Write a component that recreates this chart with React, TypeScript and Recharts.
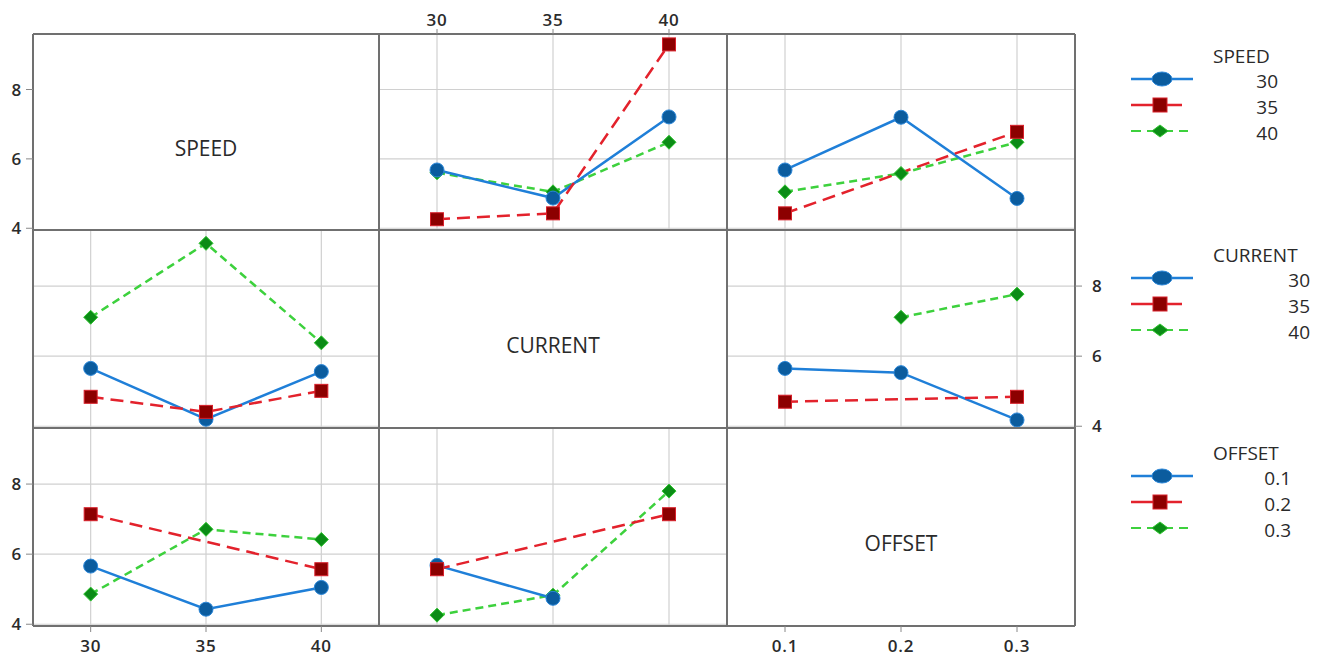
import React from "react";
import { LineChart, Line, XAxis, YAxis, CartesianGrid } from "recharts";

const speedLevels = [30, 35, 40];
const currentLevels = [30, 35, 40];
const offsetLevels = [0.1, 0.2, 0.3];
const yTicks = [4, 6, 8];

// SPEED row: one line per speed level
const speed30VsCurrent = [5.68, 4.87, 7.21];
const speed35VsCurrent = [4.26, 4.43, 9.3];
const speed40VsCurrent = [5.6, 5.05, 6.48];
const speed30VsOffset = [5.68, 7.2, 4.86];
const speed35VsOffset = [4.43, null, 6.78];
const speed40VsOffset = [5.05, 5.58, 6.48];

// CURRENT row: one line per current level
const current30VsSpeed = [5.65, 4.2, 5.56];
const current35VsSpeed = [4.84, 4.41, 5.01];
const current40VsSpeed = [7.11, 9.22, 6.38];
const current30VsOffset = [5.65, 5.53, 4.18];
const current35VsOffset = [4.7, null, 4.84];
const current40VsOffset = [null, 7.11, 7.77];

// OFFSET row: one line per offset level
const offset01VsSpeed = [5.66, 4.43, 5.05];
const offset02VsSpeed = [7.14, null, 5.57];
const offset03VsSpeed = [4.86, 6.71, 6.42];
const offset01VsCurrent = [5.68, 4.74, null];
const offset02VsCurrent = [5.57, null, 7.14];
const offset03VsCurrent = [4.26, 4.83, 7.8];

const colX = [33, 379, 727, 1075];
const rowY = [34, 230, 428, 626];
const Y_DOMAIN: [number, number] = [3.95, 9.6];
const PAD = 50;
const FONT = "'Open Sans', 'Noto Sans', sans-serif";
const FRAME = "#707070";
const GRID = "#d0d0d0";

const tickStyle = { fill: "#2b2b2b", fontSize: 17, fontFamily: FONT, fontWeight: 600, letterSpacing: 0.8 };
// keeps ticks computed (for the grid) without drawing labels
const noTick = () => <g />;

const blueDot = (p: any) =>
  p.cy == null ? <g key={p.index} /> : (
    <circle key={p.index} cx={p.cx} cy={p.cy} r={7} fill="#0b5c9e" stroke="#2a86d8" strokeWidth={1} />
  );
const redDot = (p: any) =>
  p.cy == null ? <g key={p.index} /> : (
    <rect key={p.index} x={p.cx - 6.5} y={p.cy - 6.5} width={13} height={13} fill="#8c0000" stroke="#d8202a" strokeWidth={1} />
  );
const greenDot = (p: any) =>
  p.cy == null ? <g key={p.index} /> : (
    <polygon
      key={p.index}
      points={`${p.cx},${p.cy - 7} ${p.cx + 7},${p.cy} ${p.cx},${p.cy + 7} ${p.cx - 7},${p.cy}`}
      fill="#0b8c16"
      stroke="#2ec42e"
      strokeWidth={1}
    />
  );

type PanelProps = {
  row: number;
  col: number;
  xLevels: number[];
  xDomain: [number, number];
  lines?: (number | null)[][];
  label?: string;
  left?: boolean;
  right?: boolean;
  top?: boolean;
  bottom?: boolean;
};

function Panel({ row, col, xLevels, xDomain, lines, label, left, right, top, bottom }: PanelProps) {
  const w = colX[col + 1] - colX[col];
  const h = rowY[row + 1] - rowY[row];
  const data = xLevels.map((x, i) => ({
    x,
    a: lines ? lines[0][i] : null,
    b: lines ? lines[1][i] : null,
    c: lines ? lines[2][i] : null,
  }));
  const axisLine = { stroke: FRAME, strokeWidth: 2 };
  const tl = { stroke: "#888", strokeWidth: 1 };
  return (
    <div style={{ position: "absolute", left: colX[col] - PAD, top: rowY[row] - PAD }}>
      <LineChart width={w + 2 * PAD} height={h + 2 * PAD} data={data} margin={{ top: 0, right: 0, bottom: 0, left: 0 }}>
        {lines && <CartesianGrid xAxisId="b" yAxisId="l" stroke={GRID} strokeWidth={1.2} />}
        <XAxis
          xAxisId="b"
          dataKey="x"
          type="number"
          domain={xDomain}
          ticks={xLevels}
          orientation="bottom"
          height={PAD}
          axisLine={axisLine}
          tickLine={bottom ? tl : false}
          tick={bottom ? tickStyle : noTick}
          tickSize={6}
          tickMargin={8}
          allowDataOverflow
        />
        <XAxis
          xAxisId="t"
          dataKey="x"
          type="number"
          domain={xDomain}
          ticks={xLevels}
          orientation="top"
          height={PAD}
          axisLine={axisLine}
          tickLine={top ? tl : false}
          tick={top ? tickStyle : noTick}
          tickSize={5}
          tickMargin={3}
          allowDataOverflow
        />
        <YAxis
          yAxisId="l"
          type="number"
          domain={Y_DOMAIN}
          ticks={yTicks}
          orientation="left"
          width={PAD}
          axisLine={axisLine}
          tickLine={left ? tl : false}
          tick={left ? tickStyle : noTick}
          tickSize={7}
          tickMargin={4}
          allowDataOverflow
        />
        <YAxis
          yAxisId="r"
          type="number"
          domain={Y_DOMAIN}
          ticks={yTicks}
          orientation="right"
          width={PAD}
          axisLine={axisLine}
          tickLine={right ? tl : false}
          tick={right ? tickStyle : noTick}
          tickSize={7}
          tickMargin={10}
          allowDataOverflow
        />
        {lines && (
          <Line
            xAxisId="b"
            yAxisId="l"
            type="linear"
            dataKey="c"
            stroke="#3dd13d"
            strokeWidth={2.5}
            strokeDasharray="8 5"
            dot={greenDot}
            activeDot={false}
            connectNulls
            isAnimationActive={false}
          />
        )}
        {lines && (
          <Line
            xAxisId="b"
            yAxisId="l"
            type="linear"
            dataKey="a"
            stroke="#1f7fd8"
            strokeWidth={2.5}
            dot={blueDot}
            activeDot={false}
            connectNulls
            isAnimationActive={false}
          />
        )}
        {lines && (
          <Line
            xAxisId="b"
            yAxisId="l"
            type="linear"
            dataKey="b"
            stroke="#e3222c"
            strokeWidth={2.5}
            strokeDasharray="13 7"
            dot={redDot}
            activeDot={false}
            connectNulls
            isAnimationActive={false}
          />
        )}
      </LineChart>
      {label && (
        <div
          style={{
            position: "absolute",
            left: PAD,
            top: PAD + h / 2 + 2,
            width: w,
            textAlign: "center",
            fontFamily: FONT,
            fontSize: 21,
            color: "#2a2a2a",
          }}
        >
          {label}
        </div>
      )}
    </div>
  );
}

const legends = [
  { title: "SPEED", levels: speedLevels.map(String), top: 56, right: 1278 },
  { title: "CURRENT", levels: currentLevels.map(String), top: 255, right: 1310 },
  { title: "OFFSET", levels: offsetLevels.map(String), top: 453, right: 1291 },
];

function Legends() {
  return (
    <svg width={1323} height={657} style={{ position: "absolute", left: 0, top: 0, pointerEvents: "none" }}>
      {legends.map((lg) => {
        const y0 = lg.top + 23;
        return (
          <g key={lg.title} fontFamily={FONT} fill="#2a2a2a">
            <text x={1213} y={lg.top} dy="0.35em" fontSize={19}>
              {lg.title}
            </text>
            {lg.levels.map((lv, i) => (
              <text key={lv} x={lg.right} y={y0 + i * 26 + 2} dy="0.35em" fontSize={19} textAnchor="end">
                {lv}
              </text>
            ))}
            <line x1={1131} x2={1193} y1={y0} y2={y0} stroke="#1f7fd8" strokeWidth={2.5} />
            <ellipse cx={1162} cy={y0} rx={10} ry={7} fill="#0b5c9e" stroke="#2a86d8" />
            <line x1={1131} x2={1182} y1={y0 + 26} y2={y0 + 26} stroke="#e3222c" strokeWidth={2.5} />
            <rect x={1153} y={y0 + 26 - 7} width={14} height={14} fill="#8c0000" stroke="#d8202a" />
            <line
              x1={1131}
              x2={1188}
              y1={y0 + 52}
              y2={y0 + 52}
              stroke="#3dd13d"
              strokeWidth={2}
              strokeDasharray="10 6"
            />
            <polygon
              points={`1152,${y0 + 52} 1160,${y0 + 46} 1168,${y0 + 52} 1160,${y0 + 58}`}
              fill="#0b8c16"
              stroke="#2ec42e"
            />
          </g>
        );
      })}
    </svg>
  );
}

export default function App() {
  const lvDomain: [number, number] = [27.5, 42.5];
  const offDomain: [number, number] = [0.05, 0.35];
  return (
    <div style={{ position: "absolute", left: 0, top: 0, width: 1323, height: 657, background: "#fff", overflow: "hidden" }}>
      <Panel row={0} col={0} xLevels={speedLevels} xDomain={lvDomain} label="SPEED" left />
      <Panel row={0} col={1} xLevels={currentLevels} xDomain={lvDomain} lines={[speed30VsCurrent, speed35VsCurrent, speed40VsCurrent]} top />
      <Panel row={0} col={2} xLevels={offsetLevels} xDomain={offDomain} lines={[speed30VsOffset, speed35VsOffset, speed40VsOffset]} />
      <Panel row={1} col={0} xLevels={speedLevels} xDomain={lvDomain} lines={[current30VsSpeed, current35VsSpeed, current40VsSpeed]} />
      <Panel row={1} col={1} xLevels={currentLevels} xDomain={lvDomain} label="CURRENT" />
      <Panel row={1} col={2} xLevels={offsetLevels} xDomain={offDomain} lines={[current30VsOffset, current35VsOffset, current40VsOffset]} right />
      <Panel row={2} col={0} xLevels={speedLevels} xDomain={lvDomain} lines={[offset01VsSpeed, offset02VsSpeed, offset03VsSpeed]} left bottom />
      <Panel row={2} col={1} xLevels={currentLevels} xDomain={lvDomain} lines={[offset01VsCurrent, offset02VsCurrent, offset03VsCurrent]} />
      <Panel row={2} col={2} xLevels={offsetLevels} xDomain={offDomain} label="OFFSET" bottom />
      <Legends />
    </div>
  );
}
